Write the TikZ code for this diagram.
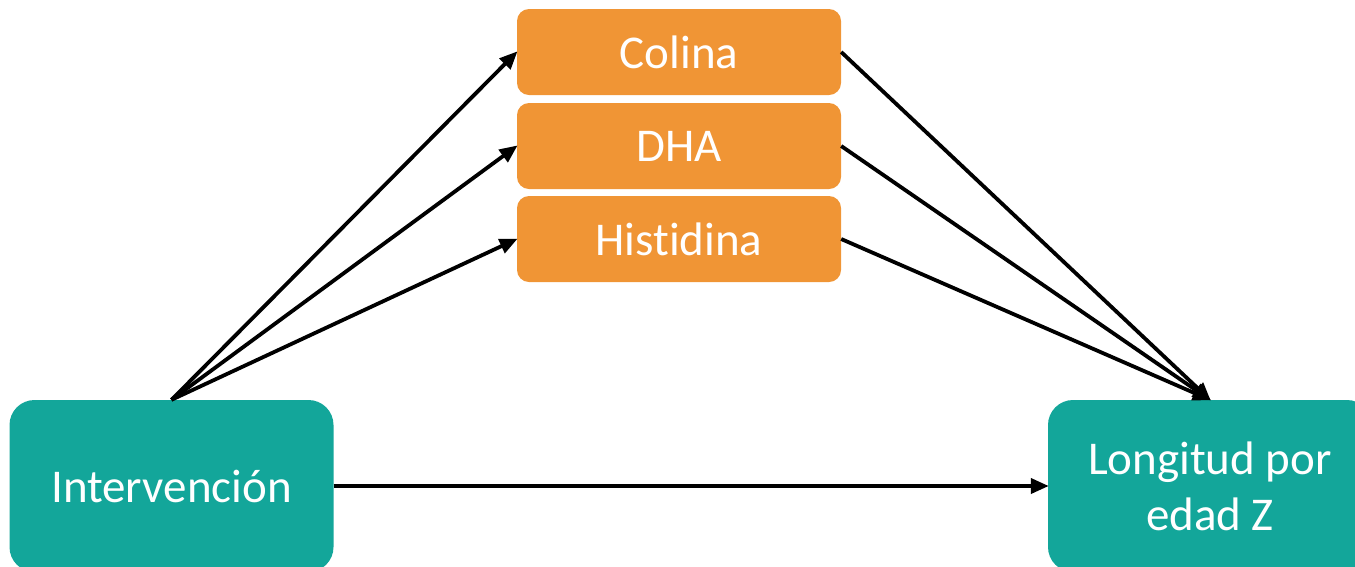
\documentclass[tikz,border=0pt]{standalone}
\usepackage{fontspec}
\setmainfont[Ligatures=NoCommon]{Carlito}
\usetikzlibrary{arrows.meta}
\definecolor{boxorange}{HTML}{F09535}
\definecolor{boxteal}{HTML}{13A69A}
\tikzset{
  mediator/.style={fill=boxorange, draw=none, rounded corners=12pt, minimum width=324pt, minimum height=86pt, inner sep=0pt, text=white, font=\fontsize{47}{56}\selectfont},
  endbox/.style={fill=boxteal, draw=none, rounded corners=25pt, minimum width=324pt, minimum height=172pt, inner sep=0pt, text=white, align=center, font=\fontsize{47}{56}\selectfont},
  conn/.style={line width=3.8pt, -{Triangle[length=18pt,width=15pt]}, shorten >=-1pt}
}
\begin{document}
\begin{tikzpicture}[x=1pt,y=-1pt]
\useasboundingbox (0,0) rectangle (1355,566);
\clip (0,0) rectangle (1355,566);
\node[mediator] (col) at (679,52) {Colina};
\node[mediator] (dha) at (679,146) {DHA};
\node[mediator] (his) at (679,239) {Histidina};
\node[endbox] (int) at (171.5,486) {Intervención};
\node[endbox] (lon) at (1210,486) {Longitud por\\edad Z};
\draw[conn] (int.north) -- (col.west);
\draw[conn] (int.north) -- (dha.west);
\draw[conn] (int.north) -- (his.west);
\draw[conn] (col.east) -- (lon.north);
\draw[conn] (dha.east) -- (lon.north);
\draw[conn] (his.east) -- (lon.north);
\draw[conn] (int.east) -- (lon.west);
\end{tikzpicture}
\end{document}
